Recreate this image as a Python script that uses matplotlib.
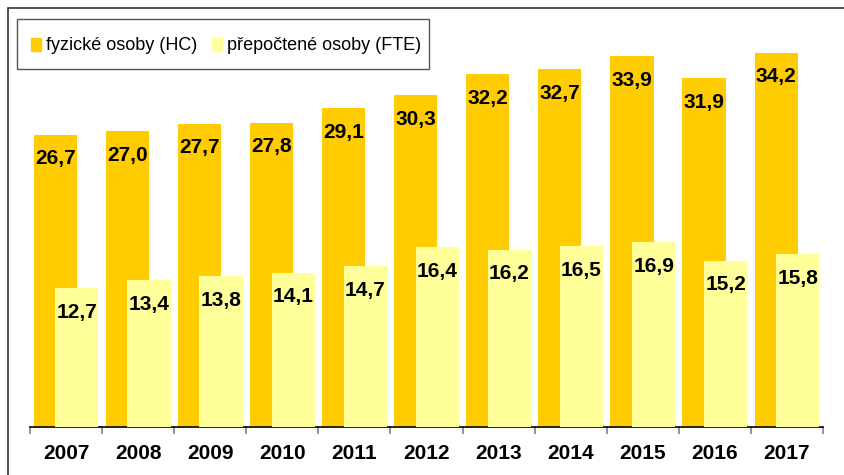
import numpy as np
import matplotlib.pyplot as plt
from matplotlib.patches import Rectangle

plt.rcParams['font.family'] = ['Liberation Sans', 'DejaVu Sans']

# data
years = ['2007', '2008', '2009', '2010', '2011', '2012', '2013', '2014', '2015', '2016', '2017']
hc = [26.7, 27.0, 27.7, 27.8, 29.1, 30.3, 32.2, 32.7, 33.9, 31.9, 34.2]
fte = [12.7, 13.4, 13.8, 14.1, 14.7, 16.4, 16.2, 16.5, 16.9, 15.2, 15.8]
series_names = ['fyzické osoby (HC)', 'přepočtené osoby (FTE)']

c_hc = '#FFCC00'
c_fte = '#FFFF99'

W, H = 845, 475
fig = plt.figure(figsize=(W / 100, H / 100), dpi=100)

# plot area in pixels: x 30..823, axis at y=427
left, right, bottom = 30, 823, 427
ymax = 36
px_per_unit = 10.95
top = bottom - ymax * px_per_unit
ax = fig.add_axes([left / W, (H - bottom) / H, (right - left) / W, (bottom - top) / H])

x = np.arange(len(years))
w = 0.6
ax.bar(x - 0.15, hc, width=w, color=c_hc, zorder=2)
ax.bar(x + 0.15, fte, width=w, color=c_fte, zorder=3)

def fmt(v):
    return f'{v:.1f}'.replace('.', ',')

# value labels just inside the top of each bar
for xi, v in zip(x, hc):
    ax.annotate(fmt(v), (xi - 0.15, v), xytext=(0, -17.5), textcoords='offset points',
                ha='center', va='center', fontsize=15, fontweight='bold', zorder=4)
for xi, v in zip(x, fte):
    ax.annotate(fmt(v), (xi + 0.15, v), xytext=(0, -17.5), textcoords='offset points',
                ha='center', va='center', fontsize=15, fontweight='bold', zorder=4)

ax.set_xlim(-0.5, len(years) - 0.5)
ax.set_ylim(0, ymax)
for s in ['left', 'right', 'top']:
    ax.spines[s].set_visible(False)
ax.spines['bottom'].set_color('black')
ax.spines['bottom'].set_linewidth(1.2)
ax.set_yticks([])
ax.set_xticks(x)
ax.set_xticklabels(years, fontsize=15, fontweight='bold')
ax.tick_params(axis='x', which='major', length=0, pad=12.5)
ax.set_xticks(np.arange(-0.5, len(years)), minor=True)
ax.tick_params(axis='x', which='minor', length=5, color='#808080', width=1.2)

# outer chart frame
fig.add_artist(Rectangle((8 / W, -0.1), 1.1, (H - 7.5) / H + 0.1, transform=fig.transFigure,
                         fill=False, edgecolor='#333333', linewidth=1.2))

# legend box
fig.add_artist(Rectangle((17 / W, (H - 69) / H), (429 - 17) / W, 50 / H, transform=fig.transFigure,
                         fill=True, facecolor='white', edgecolor='#555555', linewidth=1.0, zorder=5))
handles = [Rectangle((0, 0), 1, 1, color=c_hc), Rectangle((0, 0), 1, 1, color=c_fte)]
leg = fig.legend(handles, series_names, loc='center left', bbox_to_anchor=(22 / W, (H - 46) / H),
                 ncol=2, frameon=False, fontsize=13, handlelength=0.55, handleheight=0.75,
                 handletextpad=0.3, columnspacing=0.8, borderpad=0)
leg.set_zorder(6)

fig.savefig('out.png', dpi=100)
